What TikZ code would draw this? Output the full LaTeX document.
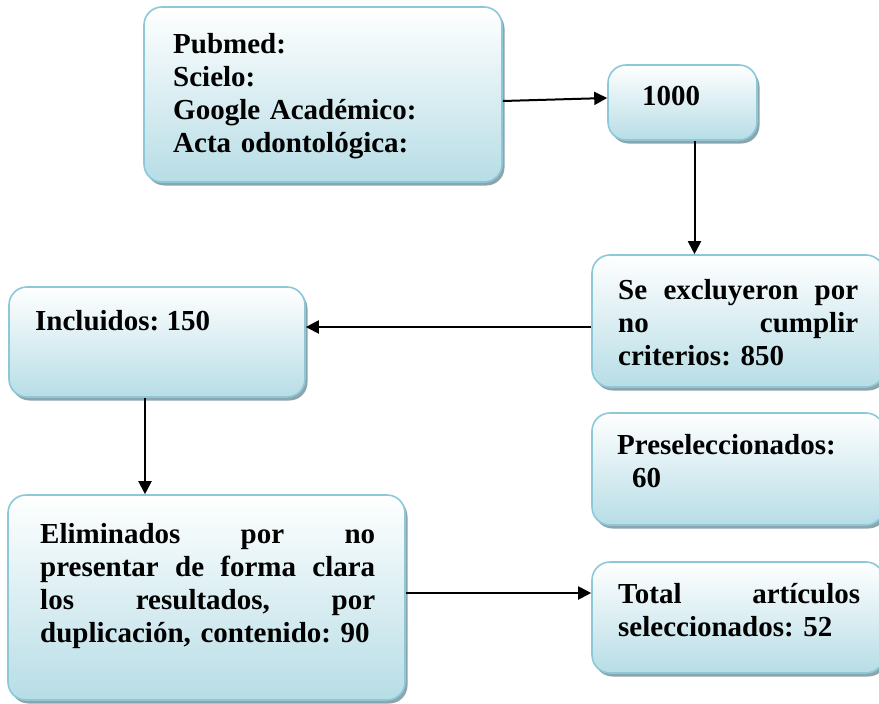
\documentclass[tikz,border=0pt]{standalone}
\usepackage{fontspec}
\setmainfont{Liberation Serif}
\usetikzlibrary{arrows.meta,shadows}
\definecolor{bordecaja}{RGB}{140,200,216}
\definecolor{fondocaja}{RGB}{183,221,230}
\definecolor{sombracaja}{RGB}{140,165,172}
\tikzset{
    caja/.style={draw=bordecaja, line width=1.6pt, rounded corners=18pt, top color=white, bottom color=fondocaja,
        drop shadow={shadow xshift=2.5pt, shadow yshift=-3.5pt, fill=sombracaja, opacity=1}},
    texto/.style={anchor=base west, inner sep=0pt, align=left, font=\bfseries\fontsize{29}{33}\selectfont\frenchspacing},
    flecha/.style={-{Triangle[length=13pt,width=13pt]}, line width=2pt}
}
\begin{document}
\begin{tikzpicture}[x=1pt,y=-1pt]
    \useasboundingbox (0,0) rectangle (879,704);
    % cajas
    \node[caja, minimum width=358pt, minimum height=175pt] (pubmed) at (323,94.5) {};
    \node[caja, minimum width=149pt, minimum height=75pt] (mil) at (682.5,102.5) {};
    \node[caja, minimum width=292pt, minimum height=132pt] (excl) at (738,321) {};
    \node[caja, minimum width=296pt, minimum height=110pt] (incl) at (157,342) {};
    \node[caja, minimum width=292pt, minimum height=112pt] (presel) at (738,469) {};
    \node[caja, minimum width=397pt, minimum height=205pt] (elim) at (206.5,597.5) {};
    \node[caja, minimum width=292pt, minimum height=111pt] (total) at (738,617.5) {};
    % textos
    \node[texto, text width=310pt] (tpubmed) at (173,53) {Pubmed:\\Scielo:\\Google Académico:\\Acta odontológica:};
    \node[texto] (tmil) at (642,105) {1000};
    \node[texto, text width=240pt] (texcl) at (618,299) {Se\hfill excluyeron\hfill por\\no\hfill cumplir\\criterios: 850};
    \node[texto] (tincl) at (35,330) {Incluidos: 150};
    \node[texto, text width=250pt] (tpresel) at (617,454) {Preseleccionados:\\\hspace*{15pt}60};
    \node[texto, text width=335pt] (telim) at (40,543) {Eliminados\hfill por\hfill no\\presentar\hfill de\hfill forma\hfill clara\\los\hfill resultados,\hfill por\\duplicación, contenido: 90};
    \node[texto, text width=242pt] (ttotal) at (618,603) {Total\hfill artículos\\seleccionados: 52};
    % flechas
    \draw[flecha] ([yshift=-6.5pt]pubmed.east) -- ([yshift=4.5pt]mil.west);
    \draw[flecha] ([xshift=12pt]mil.south) -- ([xshift=12pt]mil.south |- excl.north);
    \draw[flecha] ([yshift=-6pt]excl.west) -- ([yshift=-6pt]excl.west -| incl.east);
    \draw[flecha] ([xshift=-12pt]incl.south) -- ([xshift=-12pt]incl.south |- elim.north);
    \draw[flecha] ([yshift=4.5pt]elim.east) -- ([yshift=4.5pt]elim.east -| total.west);
\end{tikzpicture}
\end{document}
